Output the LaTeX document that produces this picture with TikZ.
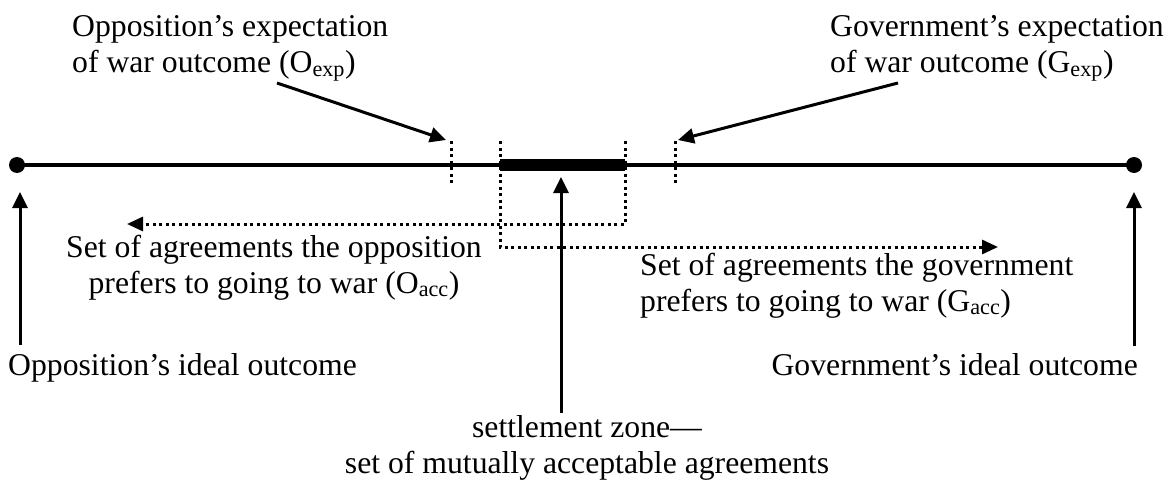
\documentclass[tikz,border=0pt]{standalone}
\usepackage{fontspec}
\setmainfont{Liberation Serif}
\usetikzlibrary{arrows.meta}
\begin{document}
\begin{tikzpicture}[x=1pt,y=-1pt,
  axis/.style={line width=3.5pt},
  zonebar/.style={line width=12pt},
  enddot/.style={circle,fill,inner sep=0pt,minimum size=16pt},
  pointer/.style={line width=3pt,-{Triangle[length=16pt,width=15pt]}},
  dotline/.style={line width=3pt,dash pattern=on 3pt off 3.5pt},
  dotarrow/.style={dotline,-{Triangle[length=16pt,width=14pt]}},
  lbl/.style={inner sep=0pt,font=\fontsize{31.7}{36}\selectfont},
]
\useasboundingbox (0,0) rectangle (1168,487);

% the issue line with both ideal points
\node[enddot] (oid) at (17,165) {};
\node[enddot] (gid) at (1134,165) {};
\draw[axis] (oid.center) -- (gid.center);

% settlement zone
\coordinate (zl) at (500,165);
\coordinate (zr) at (625,165);
\draw[zonebar] (zl) -- (zr);

% expected war outcomes
\coordinate (otick) at (451,141);
\coordinate (gtick) at (675,141);
\draw[dotline] (otick) -- ++(0,44);
\draw[dotline] (gtick) -- ++(0,44);

% acceptable sets
\coordinate (gaccA) at (500,141);
\coordinate (gaccB) at (500,247);
\coordinate (gaccC) at (998,247);
\draw[dotarrow] (gaccA) -- (gaccB) -- (gaccC);
\coordinate (oaccA) at (625,141);
\coordinate (oaccB) at (625,224);
\coordinate (oaccC) at (127,224);
\draw[dotarrow] (oaccA) -- (oaccB) -- (oaccC);

% labels (base anchor = baseline of the last line)
\node[lbl,anchor=base west,align=left] (oexpt) at (72,73)
  {Opposition’s expectation\\of war outcome (O\textsubscript{exp})};
\node[lbl,anchor=base east,align=left] (gexpt) at (1164,73)
  {Government’s expectation\\of war outcome (G\textsubscript{exp})};
\node[lbl,anchor=base,align=center] (oacct) at (274,293)
  {Set of agreements the opposition\\prefers to going to war (O\textsubscript{acc})};
\node[lbl,anchor=base west,align=left] (gacct) at (640,311)
  {Set of agreements the government\\prefers to going to war (G\textsubscript{acc})};
\node[lbl,anchor=base west] (oidt) at (8,375) {Opposition’s ideal outcome};
\node[lbl,anchor=base east] (gidt) at (1138,375) {Government’s ideal outcome};
\node[lbl,anchor=base,align=center] (szt) at (587,473)
  {settlement zone—\\set of mutually acceptable agreements};

% pointers
\coordinate (oexpS) at (277,83);
\coordinate (oexpE) at (446,140);
\draw[pointer] (oexpS) -- (oexpE);
\coordinate (gexpS) at (898,83);
\coordinate (gexpE) at (678,140);
\draw[pointer] (gexpS) -- (gexpE);
\coordinate (oidS) at (20,345);
\coordinate (oidE) at (20,192);
\draw[pointer] (oidS) -- (oidE);
\coordinate (gidS) at (1134,346);
\coordinate (gidE) at (1134,192);
\draw[pointer] (gidS) -- (gidE);
\coordinate (szS) at (561,413);
\coordinate (szE) at (561,177);
\draw[pointer] (szS) -- (szE);
\end{tikzpicture}
\end{document}
